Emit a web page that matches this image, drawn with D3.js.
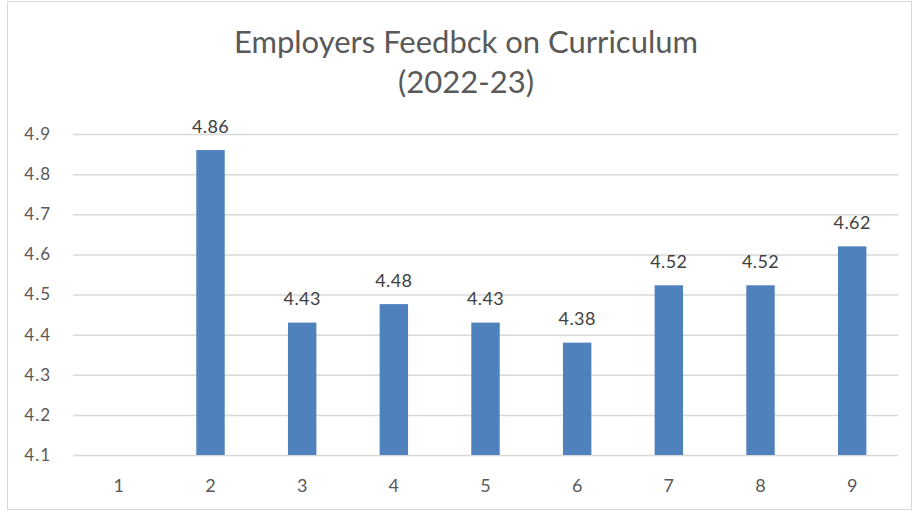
<!DOCTYPE html>
<html lang="en">
  <head>
    <meta charset="UTF-8" />
    <title>Employers Feedbck on Curriculum (2022-23)</title>
    <script src="https://cdnjs.cloudflare.com/ajax/libs/d3/7.8.5/d3.min.js"></script>
    <style>
      body { margin: 0; background: #fff; }
      svg text { font-family: Lato, "Open Sans", sans-serif; }
    </style>
  </head>
  <body>
    <figure id="chart" style="margin:0"></figure>

    <script>
      /** Chart data */
      const categories = ["1", "2", "3", "4", "5", "6", "7", "8", "9"];
      const values = [null, 4.86, 4.43, 4.476, 4.43, 4.38, 4.523, 4.523, 4.62];
      const labels = ["", "4.86", "4.43", "4.48", "4.43", "4.38", "4.52", "4.52", "4.62"];
      const yTicks = [4.1, 4.2, 4.3, 4.4, 4.5, 4.6, 4.7, 4.8, 4.9];

      /** Graph configs */
      const width = 917;
      const height = 512;
      const plotLeft = 73;
      const plotRight = 898;
      const plotTop = 134;
      const plotBottom = 455;
      const titleX = 466;
      const barColor = "#4f81bd";
      const gridColor = "#d9d9d9";
      const textColor = "#595959";

      const xScale = d3
        .scaleBand()
        .domain(categories)
        .range([plotLeft, plotRight])
        .padding(0);
      const barWidth = xScale.bandwidth() * 0.31;

      const yScale = d3
        .scaleLinear()
        .domain([4.1, 4.9])
        .range([plotBottom, plotTop]);

      const svg = d3
        .select("#chart")
        .append("svg")
        .attr("width", width)
        .attr("height", height);

      /** Chart frame */
      svg
        .append("rect")
        .attr("x", 7.5)
        .attr("y", 1.5)
        .attr("width", 904)
        .attr("height", 508)
        .attr("fill", "#fff")
        .attr("stroke", gridColor);

      /** Title */
      const title = svg
        .append("text")
        .attr("text-anchor", "middle")
        .attr("fill", textColor)
        .style("font-size", "31px");
      title.append("tspan").attr("x", titleX).attr("y", 53).text("Employers Feedbck on Curriculum");
      title.append("tspan").attr("x", titleX).attr("y", 93).text("(2022-23)");

      /** Gridlines + y axis */
      const yAxis = d3
        .axisLeft(yScale)
        .tickValues(yTicks)
        .tickSize(-(plotRight - plotLeft))
        .tickPadding(22)
        .tickFormat(d3.format(".1f"));
      const yG = svg
        .append("g")
        .attr("transform", `translate(${plotLeft},0)`)
        .call(yAxis);
      yG.select(".domain").remove();
      yG.selectAll(".tick line").attr("stroke", gridColor).attr("stroke-width", 1.5);
      yG.selectAll(".tick text")
        .attr("fill", textColor)
        .style("font-size", "17px")
        .style("letter-spacing", "1px");

      /** x axis */
      const xAxis = d3.axisBottom(xScale).tickSize(0).tickPadding(24);
      const xG = svg
        .append("g")
        .attr("transform", `translate(0,${plotBottom})`)
        .call(xAxis);
      xG.select(".domain").remove();
      xG.selectAll(".tick text")
        .attr("fill", textColor)
        .style("font-size", "18px");

      /** Bars */
      const rows = categories
        .map((c, i) => ({ c, v: values[i], label: labels[i] }))
        .filter((d) => d.v !== null);

      svg
        .selectAll("rect.bar")
        .data(rows)
        .enter()
        .append("rect")
        .attr("class", "bar")
        .attr("x", (d) => xScale(d.c) + (xScale.bandwidth() - barWidth) / 2)
        .attr("y", (d) => yScale(d.v))
        .attr("width", barWidth)
        .attr("height", (d) => yScale(4.1) - yScale(d.v))
        .attr("fill", barColor);

      /** Data labels */
      svg
        .selectAll("text.value")
        .data(rows)
        .enter()
        .append("text")
        .attr("class", "value")
        .attr("x", (d) => xScale(d.c) + xScale.bandwidth() / 2)
        .attr("y", (d) => yScale(d.v) - 17.5)
        .attr("text-anchor", "middle")
        .attr("fill", "#404040")
        .style("font-size", "18px")
        .style("letter-spacing", "0.4px")
        .text((d) => d.label);
    </script>
  </body>
</html>
